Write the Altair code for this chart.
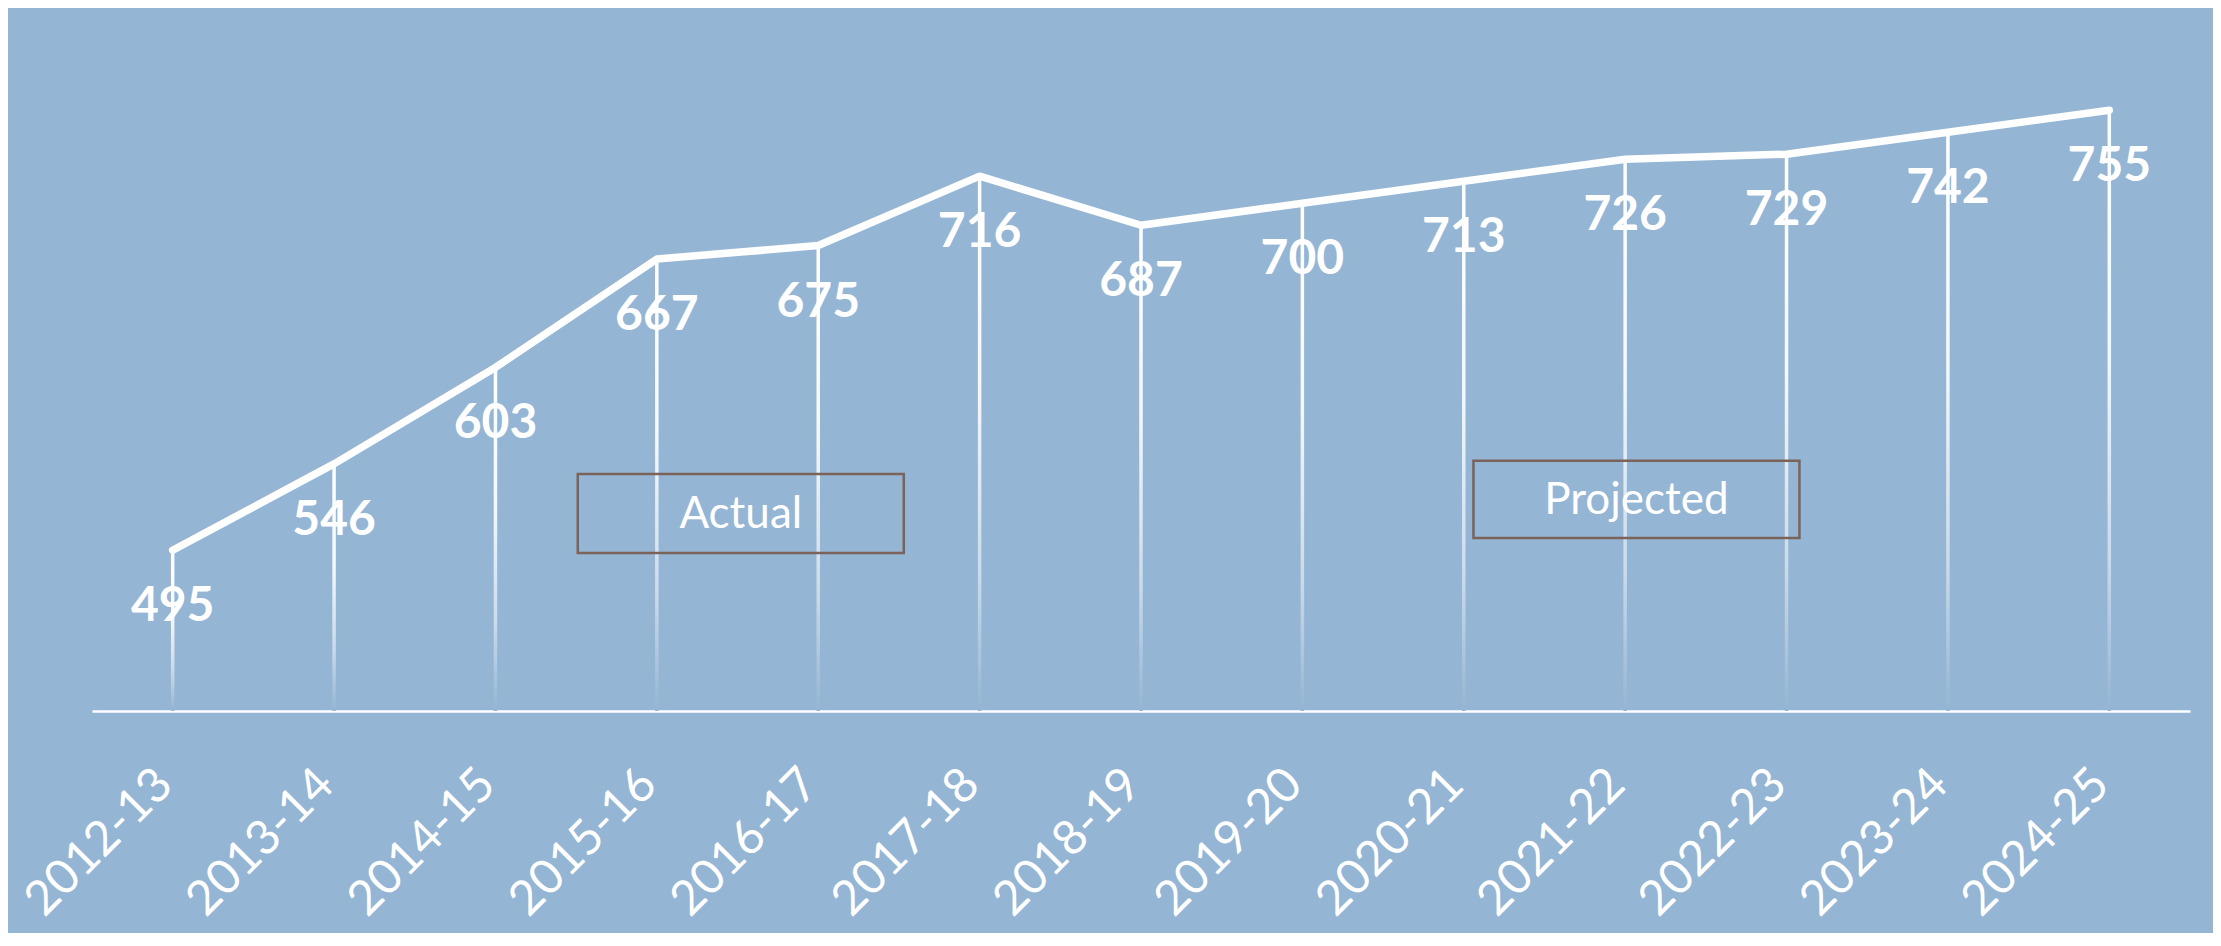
import altair as alt
import pandas as pd

# ---- data ----
years = ["2012-13", "2013-14", "2014-15", "2015-16", "2016-17", "2017-18", "2018-19",
         "2019-20", "2020-21", "2021-22", "2022-23", "2023-24", "2024-25"]
values = [495, 546, 603, 667, 675, 716, 687, 700, 713, 726, 729, 742, 755]

box_labels = ["Actual", "Projected"]

# ---- styling / annotation placement (not data) ----
BG = "#94B5D3"
BOX_STROKE = "#7b635a"
box_x1 = [2.51, 8.06]
box_x2 = [4.53, 10.08]
box_y1 = [540.0, 547.8]
box_y2 = [493.4, 502.2]

df = pd.DataFrame({"idx": list(range(len(years))), "year": years, "value": values})
boxes = pd.DataFrame({
    "label": box_labels,
    "x1": box_x1, "x2": box_x2, "y1": box_y1, "y2": box_y2,
})
boxes["cx"] = (boxes["x1"] + boxes["x2"]) / 2
boxes["cy"] = (boxes["y1"] + boxes["y2"]) / 2

label_expr = "[" + ",".join(f"'{y}'" for y in years) + "][datum.value]"

xscale = alt.Scale(domain=[-0.5, len(years) - 0.5], nice=False, zero=False, padding=0)
yscale = alt.Scale(domain=[400, 800], nice=False, zero=False, padding=0)

x = alt.X(
    "idx:Q",
    scale=xscale,
    axis=alt.Axis(
        values=list(range(len(years))),
        labelExpr=label_expr,
        labelAngle=-45,
        labelAlign="right",
        labelBaseline="middle",
        labelFont="Lato",
        labelFontSize=48,
        labelColor="white",
        labelPadding=66,
        labelOffset=-8,
        labelLimit=0,
        labelOverlap=False,
        labelFlush=False,
        ticks=False,
        tickSize=0,
        grid=False,
        domainColor="white",
        domainWidth=2.5,
        title=None,
    ),
)
y = alt.Y("value:Q", scale=yscale, axis=None)


def mix(a):
    # blend white with background, a = share of white
    bg = [int(BG[i:i + 2], 16) for i in (1, 3, 5)]
    c = [round(255 * a + v * (1 - a)) for v in bg]
    return "#%02x%02x%02x" % tuple(c)


grad = alt.Gradient(
    gradient="linear",
    stops=[
        alt.GradientStop(color=mix(1.0), offset=0),
        alt.GradientStop(color=mix(0.9), offset=0.4),
        alt.GradientStop(color=mix(0.5), offset=0.75),
        alt.GradientStop(color=mix(0.0), offset=1),
    ],
    x1=0, x2=0, y1=0, y2=1,
)

drops = alt.Chart(df).mark_bar(size=3.5, color=grad).encode(
    x=x, y=y, y2=alt.datum(400)
)

line = alt.Chart(df).mark_line(
    color="white", strokeWidth=7.5, strokeCap="round", strokeJoin="round"
).encode(x=x, y=y)

labels = alt.Chart(df).mark_text(
    font="Lato", fontSize=48, fontWeight="bold", color="white",
    baseline="alphabetic", align="center", dy=71,
).encode(x=x, y=y, text="value:Q")

rects = alt.Chart(boxes).mark_rect(
    fill=BG, fillOpacity=0, stroke=BOX_STROKE, strokeWidth=2.5
).encode(
    x=alt.X("x1:Q", scale=xscale), x2="x2:Q",
    y=alt.Y("y1:Q", scale=yscale), y2="y2:Q",
)

box_text = alt.Chart(boxes).mark_text(
    font="Lato", fontSize=44, color="white", baseline="middle", align="center", dy=2
).encode(
    x=alt.X("cx:Q", scale=xscale),
    y=alt.Y("cy:Q", scale=yscale),
    text="label:N",
)

chart = (
    alt.layer(drops, line, labels, rects, box_text)
    .properties(
        width=2098,
        height=677,
        autosize=alt.AutoSizeParams(type="none"),
        padding={"left": 84, "top": 26, "right": 23, "bottom": 222},
        background=BG,
    )
    .configure_view(stroke=None)
)

chart.save("out.html", embed_options={"renderer": "svg", "actions": False})
